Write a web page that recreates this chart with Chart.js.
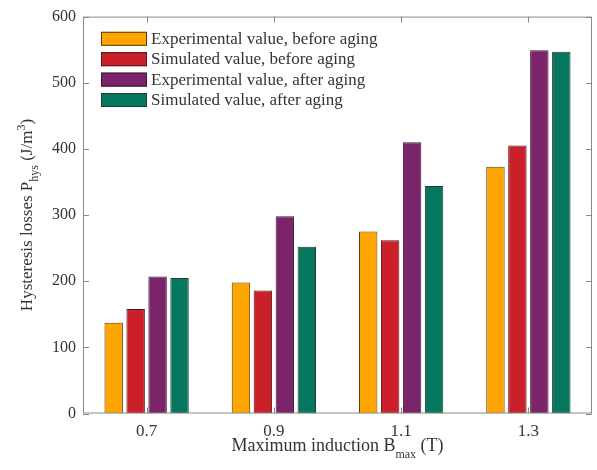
<!DOCTYPE html>
<html>
<head>
<meta charset="utf-8">
<script src="https://cdn.jsdelivr.net/npm/chart.js@4/dist/chart.umd.min.js"></script>
<style>
  html, body { margin: 0; padding: 0; background: #fff; }
  #wrap { width: 597px; height: 470px; }
</style>
</head>
<body>
<div id="wrap"><canvas id="c" width="597" height="470"></canvas></div>
<script>
// Hysteresis losses per maximum induction level
const categories = ['0.7', '0.9', '1.1', '1.3'];
const expBefore = [137, 198, 275, 373];
const simBefore = [158, 186, 262, 405];
const expAfter  = [207, 298, 410, 549];
const simAfter  = [205, 252, 344, 547];
const yTicks = [0, 100, 200, 300, 400, 500, 600];

const seriesNames = [
  'Experimental value, before aging',
  'Simulated value, before aging',
  'Experimental value, after aging',
  'Simulated value, after aging'
];
const fills = ['#FFA500', '#CB1F2A', '#7C2469', '#07785F'];
const edges = ['#5a3d10', '#4a1a1a', '#3a1a33', '#1f3b33'];
const seriesData = [expBefore, simBefore, expAfter, simAfter];

const FONT = '"Liberation Serif", "Times New Roman", serif';
const TEXT = '#333333';
const FRAME = '#8a8a8a';

// Box frame with inward tick marks on all four sides
const framePlugin = {
  id: 'frame',
  afterDatasetsDraw(chart) {
    const { ctx, chartArea: a, scales } = chart;
    ctx.save();
    ctx.strokeStyle = FRAME;
    ctx.lineWidth = 1;
    ctx.strokeRect(a.left + 0.5, a.top + 0.5, a.right - a.left - 1, a.bottom - a.top - 1);
    ctx.beginPath();
    yTicks.forEach(v => {
      const y = Math.round(scales.y.getPixelForValue(v)) + 0.5;
      ctx.moveTo(a.left, y); ctx.lineTo(a.left + 6, y);
      ctx.moveTo(a.right, y); ctx.lineTo(a.right - 6, y);
    });
    categories.forEach((c, i) => {
      const x = Math.round(scales.x.getPixelForValue(i)) + 0.5;
      ctx.moveTo(x, a.bottom); ctx.lineTo(x, a.bottom - 6);
      ctx.moveTo(x, a.top); ctx.lineTo(x, a.top + 6);
    });
    ctx.stroke();
    ctx.restore();
  }
};

// Axis titles with sub/superscripts
const titlePlugin = {
  id: 'titles',
  afterDraw(chart) {
    const { ctx, chartArea: a } = chart;
    ctx.save();
    ctx.fillStyle = TEXT;
    ctx.textBaseline = 'alphabetic';

    // x title
    const xBig = '18px ' + FONT, xSmall = '12px ' + FONT;
    const xParts = [['Maximum induction B', xBig, 0], ['max', xSmall, 7], [' (T)', xBig, 0]];
    let w = 0;
    xParts.forEach(p => { ctx.font = p[1]; w += ctx.measureText(p[0]).width; });
    let x = (a.left + a.right) / 2 - w / 2;
    const yb = 451;
    xParts.forEach(p => { ctx.font = p[1]; ctx.fillText(p[0], x, yb + p[2]); x += ctx.measureText(p[0]).width; });

    // y title (rotated)
    const yBig = '17px ' + FONT, ySmall = '12px ' + FONT;
    const yParts = [['Hysteresis losses P', yBig, 0], ['hys', ySmall, 6], [' (J/m', yBig, 0], ['3', ySmall, -7], [')', yBig, 0]];
    w = 0;
    yParts.forEach(p => { ctx.font = p[1]; w += ctx.measureText(p[0]).width; });
    ctx.translate(32, (a.top + a.bottom) / 2);
    ctx.rotate(-Math.PI / 2);
    x = -w / 2;
    yParts.forEach(p => { ctx.font = p[1]; ctx.fillText(p[0], x, p[2]); x += ctx.measureText(p[0]).width; });
    ctx.restore();
  }
};

// Legend inside the plot, upper left
const legendPlugin = {
  id: 'insideLegend',
  afterDatasetsDraw(chart) {
    const { ctx } = chart;
    ctx.save();
    ctx.font = '17px ' + FONT;
    ctx.textBaseline = 'middle';
    chart.data.datasets.forEach((ds, i) => {
      const cy = 38.8 + i * 20.4;
      ctx.fillStyle = ds.backgroundColor;
      ctx.fillRect(101, cy - 7, 46, 14);
      ctx.strokeStyle = ds.borderColor;
      ctx.lineWidth = 1;
      ctx.strokeRect(101.5, cy - 6.5, 45, 13);
      ctx.fillStyle = TEXT;
      ctx.fillText(ds.label, 151, cy + 0.5);
    });
    ctx.restore();
  }
};

new Chart(document.getElementById('c'), {
  type: 'bar',
  data: {
    labels: categories,
    datasets: seriesNames.map((name, i) => ({
      label: name,
      data: seriesData[i],
      backgroundColor: fills[i],
      borderColor: edges[i],
      borderWidth: 1,
      barPercentage: 0.84,
      categoryPercentage: 0.69
    }))
  },
  options: {
    responsive: false,
    animation: false,
    devicePixelRatio: 1,
    layout: { padding: { left: 0, top: 14, right: 5, bottom: 0 } },
    plugins: { legend: { display: false }, tooltip: { enabled: false } },
    scales: {
      x: {
        grid: { display: false, drawTicks: false },
        border: { display: false },
        ticks: { color: TEXT, font: { family: FONT, size: 17 }, padding: 8 },
        afterFit(s) { s.height = 56.5; }
      },
      y: {
        min: 0, max: 600,
        grid: { display: false, drawTicks: false },
        border: { display: false },
        ticks: { stepSize: 100, color: TEXT, font: { family: FONT, size: 16 }, padding: 7 },
        afterFit(s) { s.width = 83; }
      }
    }
  },
  plugins: [framePlugin, titlePlugin, legendPlugin]
});
</script>
</body>
</html>
